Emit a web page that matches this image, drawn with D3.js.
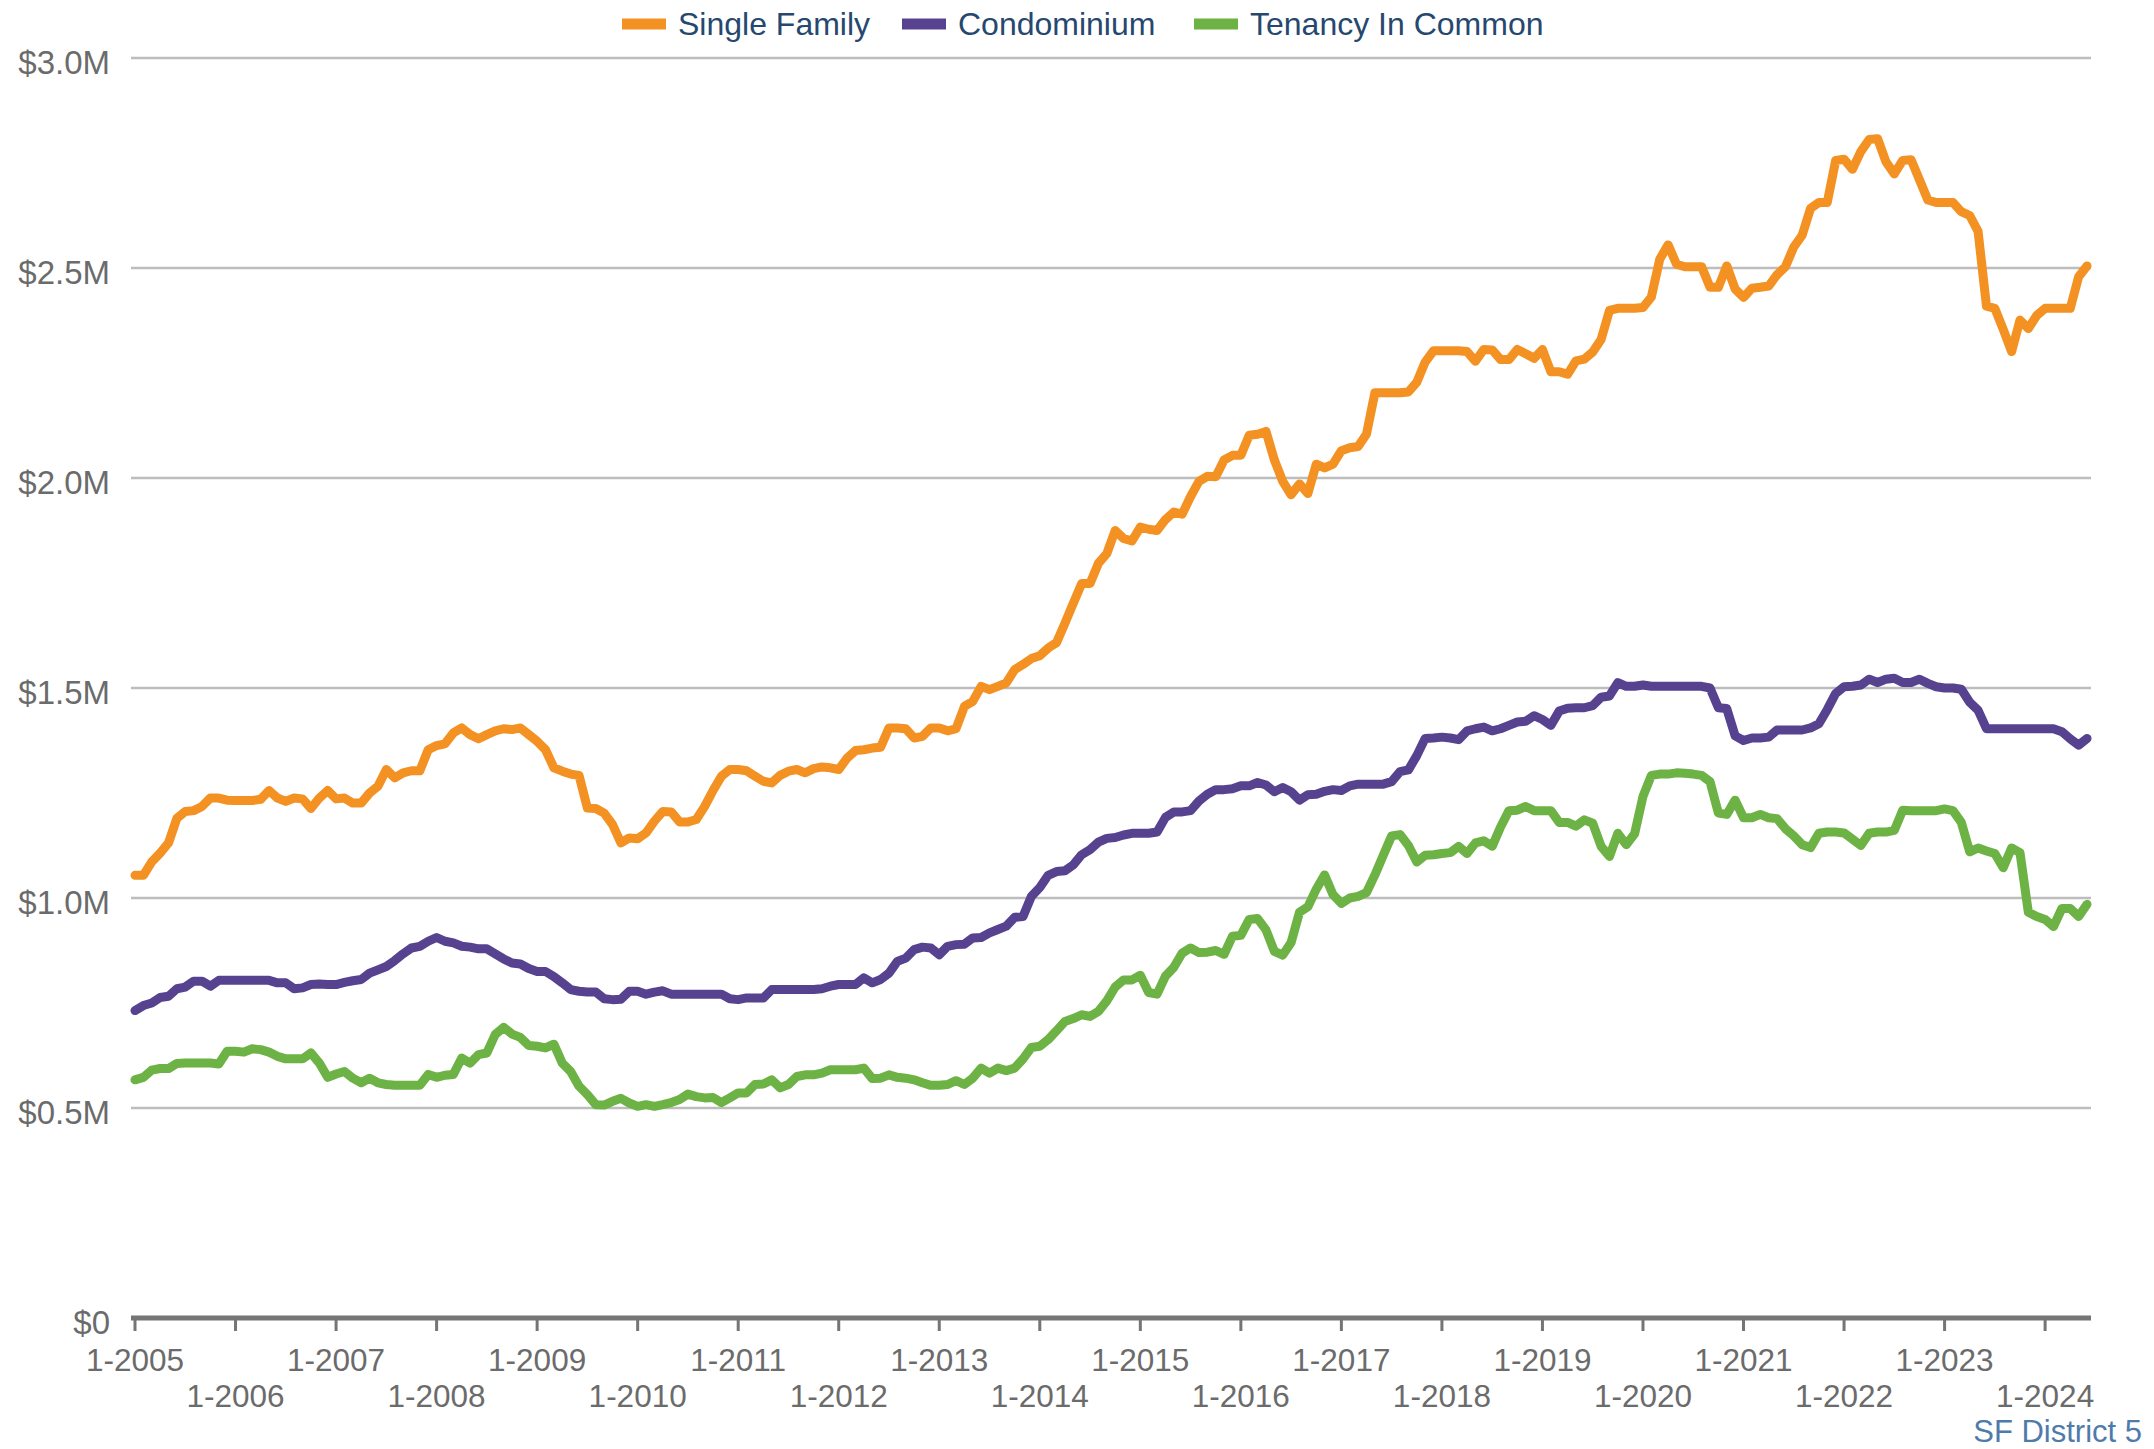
<!DOCTYPE html>
<html lang="en">
<head>
<meta charset="utf-8">
<title>SF District 5 Median Prices</title>
<script src="https://d3js.org/d3.v7.min.js"></script>
<style>
  html, body { margin: 0; padding: 0; background: #fff; }
  svg { display: block; font-family: "Liberation Sans", Arial, sans-serif; }
</style>
</head>
<body>
<div id="chart"></div>
<script>
// monthly values in $M, January 2005 .. June 2024, one row per year
const singleFamily = [
  1.054,1.054,1.086,1.107,1.131,1.190,1.206,1.208,1.218,1.238,1.238,1.233,
  1.232,1.232,1.232,1.235,1.256,1.238,1.230,1.238,1.236,1.213,1.238,1.256,
  1.236,1.238,1.226,1.226,1.250,1.266,1.306,1.286,1.298,1.303,1.303,1.353,
  1.363,1.367,1.393,1.405,1.389,1.379,1.389,1.398,1.403,1.401,1.405,1.389,
  1.373,1.353,1.310,1.302,1.295,1.292,1.214,1.213,1.202,1.175,1.131,1.143,
  1.141,1.155,1.183,1.206,1.205,1.181,1.181,1.187,1.218,1.256,1.290,1.306,
  1.306,1.303,1.290,1.278,1.274,1.292,1.302,1.306,1.298,1.308,1.312,1.310,
  1.306,1.333,1.351,1.353,1.357,1.359,1.405,1.405,1.403,1.381,1.385,1.405,
  1.405,1.398,1.403,1.456,1.468,1.504,1.496,1.504,1.512,1.544,1.556,1.570,
  1.577,1.595,1.608,1.654,1.702,1.749,1.749,1.797,1.820,1.875,1.856,1.850,
  1.883,1.878,1.875,1.901,1.919,1.914,1.956,1.992,2.004,2.003,2.043,2.054,
  2.054,2.102,2.104,2.111,2.043,1.992,1.960,1.986,1.963,2.033,2.024,2.033,
  2.065,2.072,2.075,2.105,2.203,2.203,2.203,2.203,2.205,2.228,2.276,2.303,
  2.303,2.303,2.303,2.301,2.278,2.306,2.305,2.282,2.282,2.306,2.296,2.285,
  2.306,2.253,2.253,2.247,2.279,2.283,2.300,2.330,2.399,2.404,2.404,2.404,
  2.406,2.431,2.521,2.555,2.509,2.503,2.503,2.503,2.454,2.454,2.505,2.450,
  2.430,2.452,2.454,2.457,2.484,2.503,2.550,2.578,2.642,2.656,2.656,2.756,
  2.759,2.735,2.777,2.806,2.808,2.753,2.724,2.756,2.758,2.710,2.662,2.656,
  2.656,2.656,2.634,2.625,2.587,2.409,2.404,2.354,2.301,2.376,2.356,2.387,
  2.404,2.404,2.404,2.404,2.479,2.505
];

const condominium = [
  0.732,0.744,0.750,0.763,0.766,0.784,0.788,0.802,0.802,0.790,0.804,0.804,
  0.804,0.804,0.804,0.804,0.804,0.798,0.798,0.784,0.786,0.794,0.795,0.794,
  0.794,0.799,0.803,0.806,0.821,0.829,0.837,0.851,0.867,0.881,0.885,0.897,
  0.906,0.897,0.893,0.885,0.883,0.879,0.879,0.867,0.855,0.845,0.843,0.832,
  0.825,0.825,0.813,0.798,0.782,0.778,0.776,0.776,0.760,0.758,0.759,0.778,
  0.778,0.771,0.776,0.779,0.771,0.771,0.771,0.771,0.771,0.771,0.771,0.760,
  0.758,0.762,0.762,0.762,0.782,0.782,0.782,0.782,0.782,0.782,0.784,0.790,
  0.794,0.794,0.794,0.810,0.798,0.806,0.821,0.849,0.857,0.877,0.883,0.881,
  0.865,0.885,0.889,0.890,0.905,0.906,0.917,0.925,0.933,0.954,0.956,1.004,
  1.025,1.054,1.063,1.065,1.079,1.103,1.115,1.133,1.142,1.144,1.150,1.154,
  1.154,1.154,1.157,1.192,1.205,1.205,1.208,1.231,1.247,1.258,1.258,1.260,
  1.267,1.267,1.275,1.269,1.253,1.263,1.253,1.233,1.246,1.247,1.254,1.258,
  1.256,1.267,1.271,1.271,1.271,1.271,1.277,1.301,1.305,1.339,1.380,1.381,
  1.383,1.381,1.377,1.398,1.403,1.407,1.398,1.403,1.411,1.419,1.421,1.434,
  1.425,1.411,1.445,1.452,1.453,1.453,1.458,1.478,1.481,1.513,1.504,1.504,
  1.507,1.504,1.504,1.504,1.504,1.504,1.504,1.504,1.500,1.453,1.451,1.386,
  1.375,1.381,1.381,1.383,1.400,1.400,1.400,1.400,1.405,1.415,1.449,1.487,
  1.503,1.504,1.507,1.521,1.513,1.521,1.523,1.513,1.513,1.521,1.511,1.503,
  1.500,1.500,1.497,1.466,1.447,1.403,1.403,1.403,1.403,1.403,1.403,1.403,
  1.403,1.403,1.396,1.379,1.364,1.380
];

const tenancyInCommon = [
  0.567,0.573,0.590,0.594,0.594,0.606,0.607,0.607,0.607,0.607,0.605,0.635,
  0.635,0.633,0.641,0.639,0.633,0.623,0.617,0.617,0.617,0.631,0.607,0.573,
  0.581,0.587,0.571,0.560,0.571,0.560,0.556,0.554,0.554,0.554,0.554,0.580,
  0.573,0.578,0.580,0.619,0.607,0.627,0.631,0.675,0.692,0.676,0.668,0.649,
  0.647,0.643,0.652,0.607,0.587,0.552,0.532,0.508,0.507,0.516,0.523,0.512,
  0.504,0.508,0.504,0.508,0.513,0.520,0.533,0.527,0.524,0.525,0.513,0.524,
  0.536,0.536,0.556,0.557,0.567,0.548,0.556,0.575,0.579,0.579,0.583,0.591,
  0.591,0.591,0.591,0.595,0.570,0.571,0.579,0.573,0.571,0.567,0.560,0.554,
  0.554,0.556,0.565,0.556,0.571,0.595,0.583,0.595,0.589,0.595,0.617,0.644,
  0.647,0.663,0.684,0.706,0.713,0.722,0.718,0.730,0.755,0.788,0.805,0.805,
  0.816,0.775,0.771,0.814,0.835,0.869,0.881,0.870,0.871,0.875,0.866,0.909,
  0.911,0.949,0.951,0.924,0.873,0.864,0.894,0.966,0.979,1.021,1.055,1.008,
  0.987,1.000,1.004,1.013,1.055,1.102,1.148,1.151,1.125,1.086,1.102,1.103,
  1.106,1.108,1.123,1.106,1.131,1.136,1.123,1.169,1.208,1.209,1.218,1.208,
  1.208,1.208,1.180,1.180,1.171,1.186,1.178,1.123,1.099,1.154,1.127,1.153,
  1.242,1.292,1.295,1.295,1.298,1.297,1.295,1.292,1.277,1.202,1.199,1.233,
  1.191,1.191,1.199,1.191,1.189,1.165,1.148,1.127,1.120,1.154,1.157,1.157,
  1.155,1.140,1.125,1.154,1.157,1.157,1.161,1.209,1.208,1.208,1.208,1.208,
  1.212,1.208,1.180,1.110,1.119,1.112,1.106,1.072,1.119,1.108,0.966,0.956,
  0.949,0.932,0.975,0.975,0.956,0.985
];

const seriesNames = ["Single Family", "Condominium", "Tenancy In Common"];
const seriesColors = ["#f39123", "#574290", "#6cb244"];
const yTicks = [0, 0.5, 1.0, 1.5, 2.0, 2.5, 3.0];
const yTickLabels = ["$0", "$0.5M", "$1.0M", "$1.5M", "$2.0M", "$2.5M", "$3.0M"];
const tickYears = d3.range(2005, 2025);
const footnote = "SF District 5";

const W = 2154, H = 1449;
const margin = {left: 135, right: 2087, top: 58, bottom: 1318};
const nMonths = singleFamily.length;

const x = d3.scaleLinear().domain([0, nMonths - 1]).range([margin.left, margin.right]);
const y = d3.scaleLinear().domain([0, 3]).range([margin.bottom, margin.top]);

const svg = d3.select("#chart").append("svg")
    .attr("width", W)
    .attr("height", H);

// gridlines
svg.append("g")
    .selectAll("line")
    .data(yTicks.filter(d => d > 0))
    .enter()
    .append("line")
    .attr("x1", margin.left - 4)
    .attr("x2", margin.right + 4)
    .attr("y1", d => y(d))
    .attr("y2", d => y(d))
    .attr("stroke", "#bdbdbd")
    .attr("stroke-width", 2.5);

// y labels
svg.append("g")
    .selectAll("text")
    .data(yTicks)
    .enter()
    .append("text")
    .attr("x", 110)
    .attr("y", d => y(d) + 16)
    .attr("text-anchor", "end")
    .attr("font-size", 33)
    .attr("fill", "#6b6b6b")
    .text((d, i) => yTickLabels[i]);

// lines
const line = d3.line()
    .x((d, i) => x(i))
    .y(d => y(d));

[singleFamily, condominium, tenancyInCommon].forEach((values, k) => {
    svg.append("path")
        .datum(values)
        .attr("fill", "none")
        .attr("stroke", seriesColors[k])
        .attr("stroke-width", 9)
        .attr("stroke-linejoin", "round")
        .attr("stroke-linecap", "round")
        .attr("d", line);
});

// x axis
svg.append("line")
    .attr("x1", margin.left - 4)
    .attr("x2", margin.right + 4)
    .attr("y1", margin.bottom)
    .attr("y2", margin.bottom)
    .attr("stroke", "#757575")
    .attr("stroke-width", 5);

const xt = svg.append("g")
    .selectAll("g")
    .data(tickYears)
    .enter()
    .append("g")
    .attr("transform", d => `translate(${x((d - 2005) * 12)},0)`);

xt.append("line")
    .attr("y1", margin.bottom)
    .attr("y2", margin.bottom + 13)
    .attr("stroke", "#757575")
    .attr("stroke-width", 3);

xt.append("text")
    .attr("y", (d, i) => i % 2 === 0 ? 1371 : 1407)
    .attr("text-anchor", "middle")
    .attr("font-size", 31.5)
    .attr("fill", "#6b6b6b")
    .text(d => "1-" + d);

// legend
const legendX = [622, 902, 1194];
const legend = svg.append("g")
    .selectAll("g")
    .data(seriesNames)
    .enter()
    .append("g")
    .attr("transform", (d, i) => `translate(${legendX[i]},24)`);

legend.append("rect")
    .attr("x", 0)
    .attr("y", -5.5)
    .attr("width", 44)
    .attr("height", 11)
    .attr("fill", (d, i) => seriesColors[i]);

legend.append("text")
    .attr("x", 56)
    .attr("y", 11)
    .attr("font-size", 32)
    .attr("fill", "#26486f")
    .text(d => d);

svg.append("text")
    .attr("x", 2142)
    .attr("y", 1442)
    .attr("text-anchor", "end")
    .attr("font-size", 31)
    .attr("fill", "#4f7bab")
    .text(footnote);
</script>
</body>
</html>
